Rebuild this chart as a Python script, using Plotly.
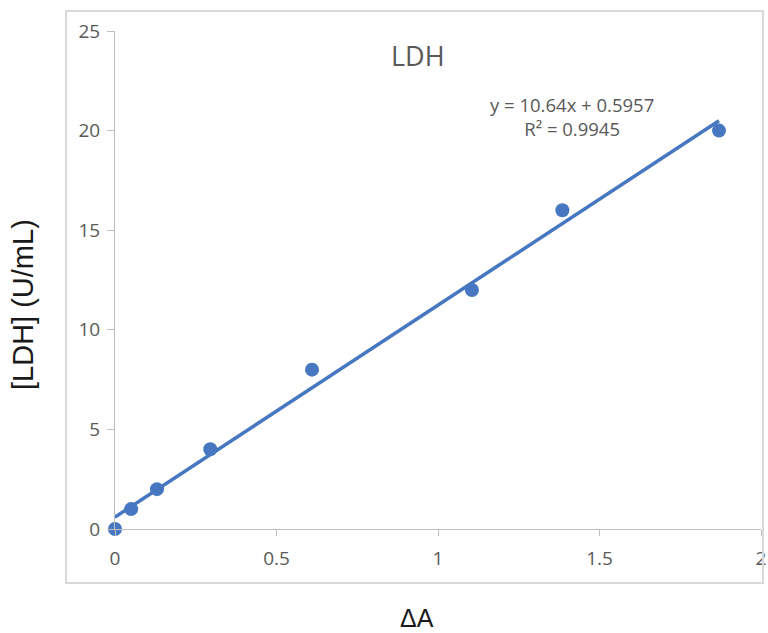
import plotly.graph_objects as go

delta_a = [0.0, 0.05, 0.13, 0.295, 0.61, 1.105, 1.385, 1.87]
ldh = [0.0, 1.0, 2.0, 4.0, 8.0, 12.0, 16.0, 20.0]
slope = 10.64
intercept = 0.5957
r2 = 0.9945
x_ticks = [0, 0.5, 1, 1.5, 2]
x_ticktext = ["0", "0.5", "1", "1.5", "2"]
y_ticks = [0, 5, 10, 15, 20, 25]

trend_x = [min(delta_a), max(delta_a)]
trend_y = [slope * v + intercept for v in trend_x]

blue = "#4677C0"
gray = "#595959"
tick_font = "Open Sans, Noto Sans, sans-serif"
title_font = "Liberation Sans, Arial, sans-serif"

W, H = 768, 633
# plot area in page pixels
PL, PR, PT, PB = 115, 761, 31, 529
ml, mr, mt, mb = PL, W - PR, PT, H - PB
pw, ph = PR - PL, PB - PT


def px(x):
    return (x - PL) / pw


def py(y):
    return (PB - y) / ph


fig = go.Figure()
fig.add_trace(go.Scatter(x=trend_x, y=trend_y, mode="lines",
                         line=dict(color=blue, width=3.5), showlegend=False,
                         cliponaxis=False))
fig.add_trace(go.Scatter(x=delta_a, y=ldh, mode="markers",
                         marker=dict(color=blue, size=14), showlegend=False,
                         cliponaxis=False))

fig.add_shape(type="rect", xref="paper", yref="paper",
              x0=px(66), x1=px(763), y0=py(583), y1=py(11),
              line=dict(color="#d9d9d9", width=2), fillcolor="rgba(0,0,0,0)")

fig.add_annotation(text="LDH", xref="paper", yref="paper", x=px(418), y=py(55),
                   xanchor="center", yanchor="middle", showarrow=False,
                   font=dict(size=27, color=gray, family=tick_font))
fig.add_annotation(text=f"y = {slope}x + {intercept}<br>R² = {r2}", xref="paper", yref="paper",
                   x=px(572), y=py(116), xanchor="center", yanchor="middle", showarrow=False,
                   align="center",
                   font=dict(size=18.5, color=gray, family=tick_font))

fig.add_annotation(text="ΔA", xref="paper", yref="paper", x=px(417), y=py(618),
                   xanchor="center", yanchor="middle", showarrow=False,
                   font=dict(size=25, color="#1a1a1a", family=title_font))
fig.add_annotation(text="[LDH] (U/mL)", xref="paper", yref="paper", x=px(23), y=py(305),
                   xanchor="center", yanchor="middle", showarrow=False, textangle=-90,
                   font=dict(size=29, color="#1a1a1a", family=title_font))

fig.update_layout(
    width=W, height=H,
    margin=dict(l=ml, r=mr, t=mt, b=mb, autoexpand=False),
    paper_bgcolor="white", plot_bgcolor="white",
    font=dict(family=tick_font, color=gray),
    xaxis=dict(range=[0, 2], tickvals=x_ticks, ticktext=x_ticktext,
               showgrid=False, zeroline=False, showline=True, linecolor="#bfbfbf", linewidth=1,
               ticks="outside", ticklen=6, tickcolor="#bfbfbf", ticklabelstandoff=6,
               tickfont=dict(size=19, color=gray)),
    yaxis=dict(range=[0, 25], tickvals=y_ticks,
               showgrid=False, zeroline=False, showline=True, linecolor="#bfbfbf", linewidth=1,
               ticks="outside", ticklen=7, tickcolor="#bfbfbf", ticklabelstandoff=3,
               tickfont=dict(size=19, color=gray)),
)

fig.write_html("out.html", config={"displayModeBar": False},
               post_script="document.body.style.margin='0';document.body.style.overflow='hidden';")
